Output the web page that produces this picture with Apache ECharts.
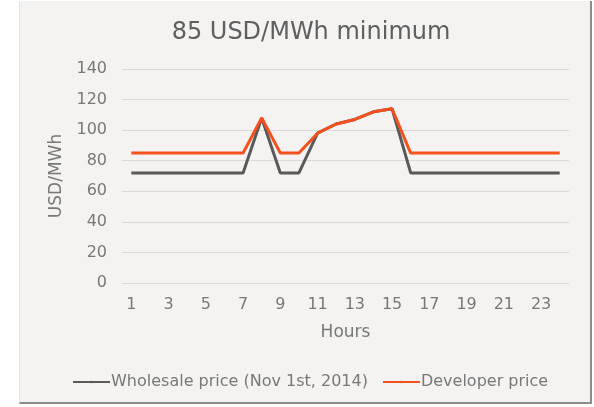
<!DOCTYPE html>
<html>
<head>
<meta charset="utf-8">
<script src="https://cdn.jsdelivr.net/npm/echarts@6/dist/echarts.min.js"></script>
<style>
  html, body { margin: 0; padding: 0; background: #ffffff; }
  #panel {
    position: absolute; left: 19px; top: 1px; width: 570px; height: 401px;
    background: #f4f3f1; border-left: 1px solid #e6e5e3;
    border-right: 2px solid #8c8c8c; border-bottom: 2px solid #8c8c8c;
  }
  #main { position: absolute; left: 0; top: 0; width: 594px; height: 407px; }
</style>
</head>
<body>
<div id="panel"></div>
<div id="main"></div>
<script>
// hours of the day
var hours = ['1','2','3','4','5','6','7','8','9','10','11','12','13','14','15','16','17','18','19','20','21','22','23','24'];
// wholesale price on Nov 1st 2014, USD/MWh
var wholesale = [72, 72, 72, 72, 72, 72, 72, 108, 72, 72, 98, 104, 107, 112, 114, 72, 72, 72, 72, 72, 72, 72, 72, 72];
// developer price with 85 USD/MWh floor
var developer = [85, 85, 85, 85, 85, 85, 85, 108, 85, 85, 98, 104, 107, 112, 114, 85, 85, 85, 85, 85, 85, 85, 85, 85];
var yTicks = [0, 20, 40, 60, 80, 100, 120, 140];

var font = 'DejaVu Sans';
var grey = '#787878';
var myChart = echarts.init(document.getElementById('main'));
var option = {
  animation: false,
  backgroundColor: 'transparent',
  title: {
    text: '85 USD/MWh minimum',
    left: 306, top: 16, textAlign: 'center',
    textStyle: { fontFamily: font, fontSize: 24, fontWeight: 'normal', color: '#5f5f5f' }
  },
  legend: {
    top: 369, left: 67,
    itemWidth: 37, itemHeight: 3, itemGap: 14,
    textStyle: { fontFamily: font, fontSize: 16, color: grey, padding: [0, 0, 0, -4] },
    data: ['Wholesale price (Nov 1st, 2014)', 'Developer price']
  },
  grid: { left: 122, right: 25, top: 69, bottom: 124 },
  xAxis: {
    type: 'category',
    data: hours,
    boundaryGap: true,
    name: 'Hours', nameLocation: 'middle', nameGap: 41,
    nameTextStyle: { fontFamily: font, fontSize: 17, color: grey },
    axisLine: { show: false },
    axisTick: { show: false },
    axisLabel: { interval: 1, margin: 14, fontFamily: font, fontSize: 16, color: grey }
  },
  yAxis: {
    type: 'value',
    min: yTicks[0], max: yTicks[yTicks.length - 1], interval: 20,
    name: 'USD/MWh', nameLocation: 'middle', nameGap: 53, nameRotate: 90,
    nameTextStyle: { fontFamily: font, fontSize: 17, color: grey },
    axisLine: { show: false },
    axisTick: { show: false },
    axisLabel: { margin: 15, fontFamily: font, fontSize: 16, color: grey },
    splitLine: { lineStyle: { color: '#d9d9d9', width: 1 } }
  },
  series: [
    {
      name: 'Wholesale price (Nov 1st, 2014)', type: 'line', data: wholesale,
      symbol: 'none', lineStyle: { color: '#595959', width: 3 }, itemStyle: { color: '#595959' }
    },
    {
      name: 'Developer price', type: 'line', data: developer,
      symbol: 'none', lineStyle: { color: '#f4511e', width: 3 }, itemStyle: { color: '#f4511e' }
    }
  ]
};
myChart.setOption(option);
</script>
</body>
</html>
